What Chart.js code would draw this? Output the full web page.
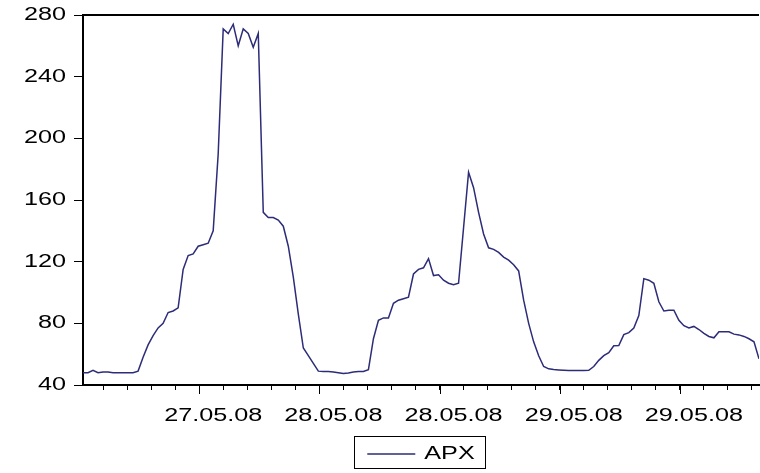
<!DOCTYPE html>
<html>
<head>
<meta charset="utf-8">
<script src="https://cdn.jsdelivr.net/npm/chart.js@4.4.1/dist/chart.umd.min.js"></script>
<style>
  html, body { margin: 0; padding: 0; background: #fff; }
  #wrap { width: 760px; height: 473px; }
</style>
</head>
<body>
<div id="wrap"><canvas id="apxChart"></canvas></div>
<script>
// hourly-ish APX prices
const apxValues = [
  48, 48, 49.5, 48, 48.5, 48.5, 48, 48, 48, 48,
  48, 49, 58, 66, 72, 77, 80, 87, 88, 90,
  115, 124, 125, 130, 131, 132, 140, 190, 271, 268,
  274, 260, 271, 268, 259, 268, 152, 148.6, 148.6, 147,
  143, 130, 110, 86, 64, 59, 54, 49, 48.8, 48.8,
  48.5, 48, 47.4, 47.8, 48.5, 48.8, 48.8, 50, 70, 82,
  83.5, 83.5, 93, 95, 96, 97, 112, 115, 116, 122,
  111, 111.5, 108, 106, 105, 106, 142, 178, 168, 152,
  138, 129, 128, 126, 123, 121, 118, 114, 95, 80,
  68, 59, 52, 50.5, 50, 49.8, 49.6, 49.4, 49.4, 49.4,
  49.4, 49.5, 52, 56, 59, 61, 65.5, 65.6, 72.7, 74,
  77, 85, 109, 108, 106, 94, 88, 88.5, 88.5, 82,
  78.5, 77, 78, 76, 73.5, 71.5, 70.6, 74.6, 74.6, 74.5,
  73, 72.5, 71.5, 70, 68, 57
];
const obsIndex = apxValues.map((v, i) => i);

const tickLabels = ['27.05.08', '28.05.08', '28.05.08', '29.05.08', '29.05.08'];
const yTicks = [40, 80, 120, 160, 200, 240, 280];

// x ticks: a minor tick every 4.8 observations, every 5th one is major
const firstTick = 4;
const tickStep = 4.8;
const tickCount = 28;
const majorEvery = 5;
const majorStart = 4;

const fontFamily = "'Liberation Sans', Arial, sans-serif";
const textStretch = 1.4; // the source picture has wide, stretched lettering

const ctx = document.getElementById('apxChart').getContext('2d');

// draw all text a bit wider, and tell Chart.js about the wider size
const proto = CanvasRenderingContext2D.prototype;
ctx.fillText = function (text, x, y) {
  this.save();
  this.translate(x, y);
  this.scale(textStretch, 1);
  proto.fillText.call(this, text, 0, 0);
  this.restore();
};
ctx.measureText = function (text) {
  const m = proto.measureText.call(this, text);
  return {
    width: m.width * textStretch,
    actualBoundingBoxAscent: m.actualBoundingBoxAscent,
    actualBoundingBoxDescent: m.actualBoundingBoxDescent
  };
};

const frame = {
  id: 'frame',
  afterDraw(chart) {
    const c = chart.ctx;
    const area = chart.chartArea;
    const xs = chart.scales.x;
    c.save();
    c.strokeStyle = '#000';
    // top border
    c.lineWidth = 2;
    c.beginPath();
    c.moveTo(area.left, area.top);
    c.lineTo(area.right, area.top);
    c.stroke();
    // longer major ticks
    c.lineWidth = 1;
    xs.ticks.forEach((t, i) => {
      if (i >= majorStart && (i - majorStart) % majorEvery === 0) {
        const px = Math.round(xs.getPixelForValue(t.value)) + 0.5;
        c.beginPath();
        c.moveTo(px, area.bottom);
        c.lineTo(px, area.bottom + 9);
        c.stroke();
      }
    });
    // box round the legend
    const hb = chart.legend.legendHitBoxes[0];
    if (hb) {
      c.lineWidth = 1;
      c.strokeRect(Math.round(hb.left - 13) + 0.5, Math.round(hb.top - 9) + 0.5,
        Math.round(hb.width + 24), Math.round(hb.height + 14));
    }
    c.restore();
  }
};

const apxChart = new Chart(ctx, {
  type: 'line',
  data: {
    labels: obsIndex,
    datasets: [{
      label: 'APX',
      data: apxValues,
      borderColor: '#2c2c78',
      borderWidth: 1.5,
      pointRadius: 0,
      tension: 0,
      fill: false
    }]
  },
  options: {
    responsive: true,
    maintainAspectRatio: false,
    animation: false,
    layout: {
      padding: { left: 0, right: 1, top: 15, bottom: 0 }
    },
    plugins: {
      legend: {
        position: 'bottom',
        fullSize: false,
        labels: {
          usePointStyle: true,
          pointStyle: 'line',
          pointStyleWidth: 48,
          color: '#000',
          padding: 6,
          font: { family: fontFamily, size: 18 }
        }
      },
      tooltip: { enabled: false }
    },
    scales: {
      x: {
        type: 'linear',
        min: 0,
        max: apxValues.length - 1,
        afterBuildTicks(scale) {
          const list = [];
          for (let k = 0; k < tickCount; k++) list.push({ value: firstTick + k * tickStep });
          scale.ticks = list;
        },
        afterFit(scale) {
          scale.height = 54;
          scale.paddingLeft = 0;
          scale.paddingRight = 0;
        },
        grid: {
          drawOnChartArea: false,
          tickLength: 5,
          tickColor: '#000'
        },
        border: { display: true, color: '#000', width: 2 },
        ticks: {
          autoSkip: false,
          maxRotation: 0,
          padding: 15,
          labelOffset: 14,
          color: '#000',
          font: { family: fontFamily, size: 18 },
          callback(value, index) {
            if (index >= majorStart && (index - majorStart) % majorEvery === 0) {
              return tickLabels[(index - majorStart) / majorEvery] || '';
            }
            return '';
          }
        }
      },
      y: {
        min: 40,
        max: 280,
        afterBuildTicks(scale) {
          scale.ticks = yTicks.map(v => ({ value: v }));
        },
        afterFit(scale) {
          scale.width = 83;
          scale.paddingTop = 0;
          scale.paddingBottom = 0;
        },
        grid: {
          drawOnChartArea: false,
          tickLength: 9,
          tickColor: '#000'
        },
        border: { display: true, color: '#000', width: 2 },
        ticks: {
          padding: 8,
          color: '#000',
          font: { family: fontFamily, size: 18 }
        }
      }
    }
  },
  plugins: [frame]
});
</script>
</body>
</html>
